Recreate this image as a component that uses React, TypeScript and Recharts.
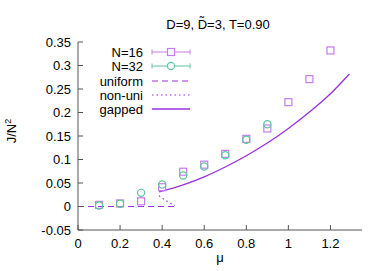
import React from 'react';
import {
  ComposedChart,
  Scatter,
  Line,
  XAxis,
  YAxis,
} from 'recharts';

// N=16 (squares) and N=32 (circles)
const muN16 = [0.1, 0.2, 0.3, 0.4, 0.5, 0.6, 0.7, 0.8, 0.9, 1.0, 1.1, 1.2];
const jN16 = [0.0035, 0.0065, 0.011, 0.041, 0.074, 0.089, 0.112, 0.144, 0.166, 0.222, 0.271, 0.332];
const muN32 = [0.1, 0.2, 0.3, 0.4, 0.5, 0.6, 0.7, 0.8, 0.9];
const jN32 = [0.002, 0.006, 0.029, 0.047, 0.066, 0.085, 0.109, 0.142, 0.175];

// analytic curves
const muUniform = [0, 0.47];
const jUniform = [0, 0];
const muNonUni = [0.385, 0.42, 0.46];
const jNonUni = [0.023, 0.012, 0.002];
const muGapped = [0.385, 0.5, 0.6, 0.7, 0.8, 0.9, 1.0, 1.1, 1.2, 1.29];
const jGapped = [0.031, 0.046, 0.063, 0.084, 0.108, 0.135, 0.166, 0.201, 0.24, 0.282];

const xTicks = [0, 0.2, 0.4, 0.6, 0.8, 1, 1.2];
const yTicks = [-0.05, 0, 0.05, 0.1, 0.15, 0.2, 0.25, 0.3, 0.35];
const legendLabels = ['N=16', 'N=32', 'uniform', 'non-uni', 'gapped'];

const SQ = '#c47cee';
const CI = '#5cc6a2';
const LN = '#9b30e0';
const FONT = '"Liberation Sans", Arial, sans-serif';

const zip = (xs: number[], ys: number[]) => xs.map((x, i) => ({ x, y: ys[i] }));

const Square = (props: any) => {
  const { cx, cy } = props;
  return <rect x={cx - 3.5} y={cy - 3.5} width={7} height={7} fill="none" stroke={SQ} strokeWidth={1.2} />;
};

const Circle = (props: any) => {
  const { cx, cy } = props;
  return <circle cx={cx} cy={cy} r={3.6} fill="none" stroke={CI} strokeWidth={1.2} />;
};

const Overlay = () => {
  const rows = [52, 66, 81, 95, 109];
  const x1 = 152;
  const x2 = 190;
  const mid = 171;
  return (
    <svg width={387} height={271} style={{ position: 'absolute', left: 0, top: 0, pointerEvents: 'none' }}>
      <text x={218} y={24} dy="0.35em" textAnchor="middle" fontFamily={FONT} fontSize={13} fill="#000">
        D=9, D&#771;=3, T=0.90
      </text>
      <text
        x={0}
        y={0}
        transform="translate(16,131) rotate(-90)"
        textAnchor="middle"
        fontFamily={FONT}
        fontSize={13}
        fill="#000"
      >
        J/N<tspan dy={-5} fontSize={9}>2</tspan>
      </text>
      {legendLabels.map((label, i) => (
        <text key={label} x={143} y={rows[i]} dy="0.35em" textAnchor="end" fontFamily={FONT} fontSize={13} fill="#000">
          {label}
        </text>
      ))}
      {/* N=16 */}
      <line x1={x1} x2={x2} y1={rows[0]} y2={rows[0]} stroke={SQ} strokeWidth={1} />
      <line x1={x1} x2={x1} y1={rows[0] - 2.5} y2={rows[0] + 2.5} stroke={SQ} />
      <line x1={x2} x2={x2} y1={rows[0] - 2.5} y2={rows[0] + 2.5} stroke={SQ} />
      <rect x={mid - 3.5} y={rows[0] - 3.5} width={7} height={7} fill="#fff" stroke={SQ} strokeWidth={1.2} />
      {/* N=32 */}
      <line x1={x1} x2={x2} y1={rows[1]} y2={rows[1]} stroke={CI} strokeWidth={1} />
      <line x1={x1} x2={x1} y1={rows[1] - 2.5} y2={rows[1] + 2.5} stroke={CI} />
      <line x1={x2} x2={x2} y1={rows[1] - 2.5} y2={rows[1] + 2.5} stroke={CI} />
      <circle cx={mid} cy={rows[1]} r={3.6} fill="#fff" stroke={CI} strokeWidth={1.2} />
      {/* lines */}
      <line x1={x1} x2={x2} y1={rows[2]} y2={rows[2]} stroke={LN} strokeWidth={1.2} strokeDasharray="6 4" />
      <line x1={x1} x2={x2} y1={rows[3]} y2={rows[3]} stroke={LN} strokeWidth={1.2} strokeDasharray="1.5 3" />
      <line x1={x1} x2={x2} y1={rows[4]} y2={rows[4]} stroke={LN} strokeWidth={1.3} />
    </svg>
  );
};

const fmtY = (v: number) => String(Math.round(v * 100) / 100);

export default function App() {
  const tickStyle = { fontFamily: FONT, fontSize: 13, fill: '#000' };
  return (
    <div style={{ position: 'absolute', left: 0, top: 0, width: 387, height: 271, background: '#fff' }}>
      <ComposedChart width={387} height={271} margin={{ top: 42, right: 25, bottom: 0, left: 0 }}>
        <XAxis
          xAxisId="b"
          type="number"
          dataKey="x"
          domain={[0, 1.35]}
          ticks={xTicks}
          allowDataOverflow
          height={41}
          stroke="#555"
          tickSize={-5}
          tickMargin={14}
          tick={tickStyle}
          label={{ value: 'μ', position: 'insideBottom', offset: 9, style: { fontFamily: FONT, fontSize: 13, fill: '#000' } }}
        />
        <XAxis
          xAxisId="t"
          orientation="top"
          type="number"
          dataKey="x"
          domain={[0, 1.35]}
          ticks={xTicks}
          allowDataOverflow
          height={0}
          stroke="#555"
          tickSize={-5}
          tick={false}
        />
        <YAxis
          yAxisId="l"
          type="number"
          dataKey="y"
          domain={[-0.05, 0.35]}
          ticks={yTicks}
          allowDataOverflow
          width={78}
          stroke="#555"
          tickSize={-5}
          tickMargin={12}
          tick={tickStyle}
          tickFormatter={fmtY}
        />
        <YAxis
          yAxisId="r"
          orientation="right"
          type="number"
          dataKey="y"
          domain={[-0.05, 0.35]}
          ticks={yTicks}
          allowDataOverflow
          width={0}
          stroke="#555"
          tickSize={-5}
          tick={false}
        />
        <Line
          xAxisId="b"
          yAxisId="l"
          data={zip(muUniform, jUniform)}
          dataKey="y"
          type="linear"
          stroke={LN}
          strokeWidth={1.2}
          strokeDasharray="6 4"
          dot={false}
          isAnimationActive={false}
        />
        <Line
          xAxisId="b"
          yAxisId="l"
          data={zip(muNonUni, jNonUni)}
          dataKey="y"
          type="monotone"
          stroke={LN}
          strokeWidth={1.2}
          strokeDasharray="1.5 3"
          dot={false}
          isAnimationActive={false}
        />
        <Line
          xAxisId="b"
          yAxisId="l"
          data={zip(muGapped, jGapped)}
          dataKey="y"
          type="monotone"
          stroke={LN}
          strokeWidth={1.3}
          dot={false}
          isAnimationActive={false}
        />
        <Scatter xAxisId="b" yAxisId="l" data={zip(muN16, jN16)} shape={<Square />} isAnimationActive={false} />
        <Scatter xAxisId="b" yAxisId="l" data={zip(muN32, jN32)} shape={<Circle />} isAnimationActive={false} />
      </ComposedChart>
      <Overlay />
    </div>
  );
}
